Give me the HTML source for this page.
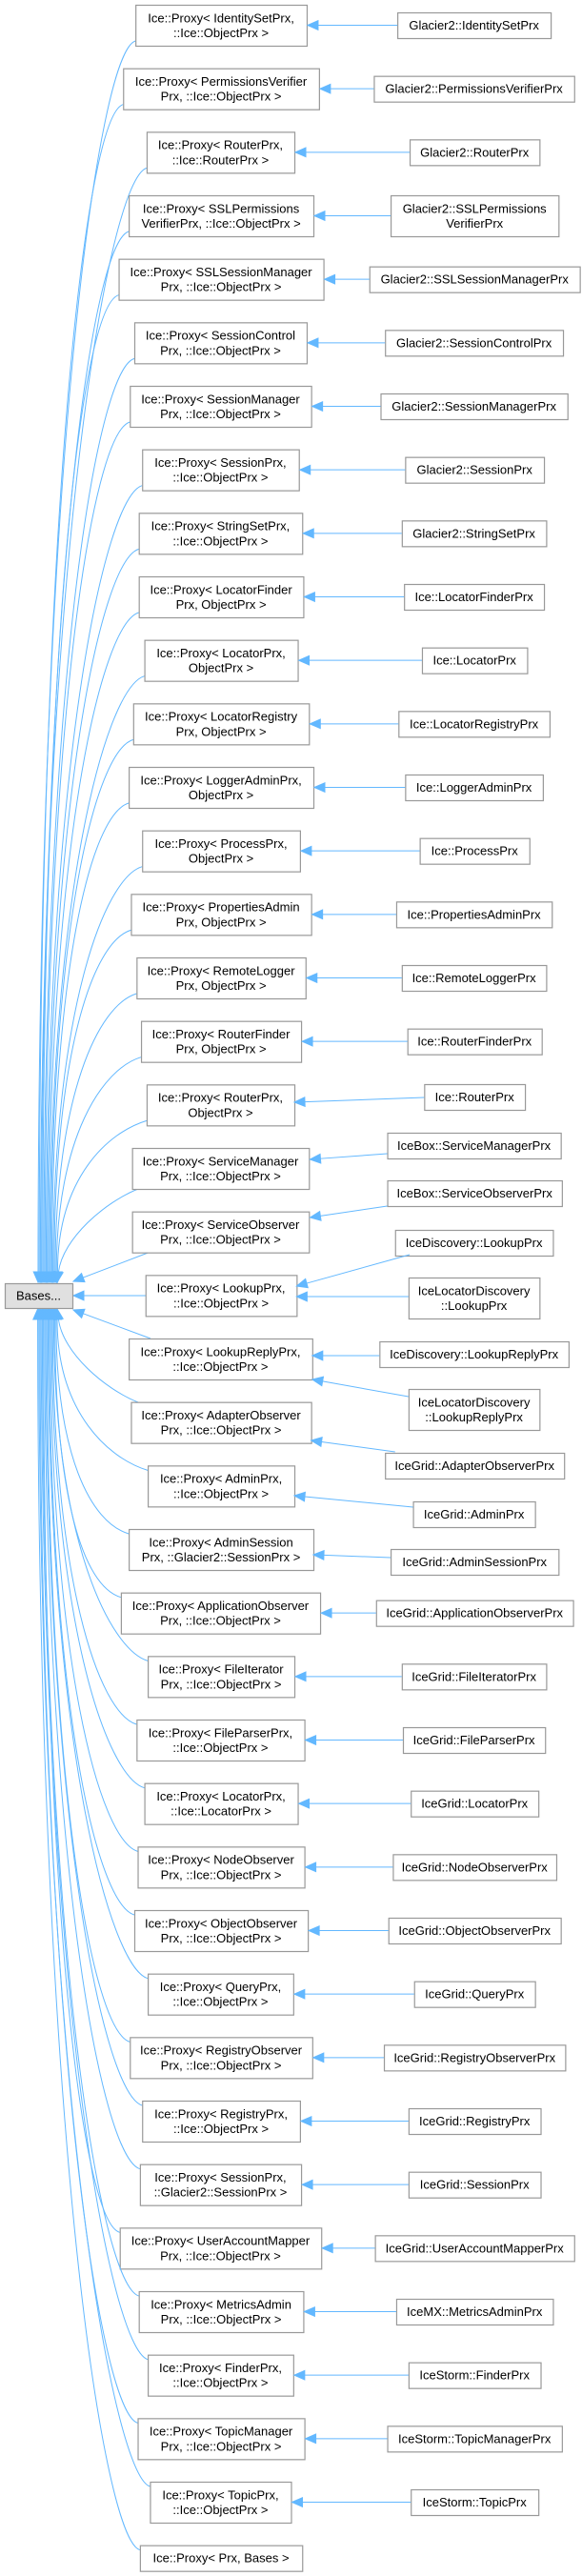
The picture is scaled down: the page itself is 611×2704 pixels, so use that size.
<!DOCTYPE html>
<html><head><meta charset="utf-8">
<style>
html,body{margin:0;padding:0;background:#fff;}
svg{display:block;}
text{font-family:"Liberation Sans",Arial,sans-serif;font-size:13px;fill:#000;}
</style></head>
<body>
<svg id="s" xmlns="http://www.w3.org/2000/svg" width="611" height="2704" viewBox="0 0 611 2704"></svg>
<script>
var S=1.175; // x scale
var P=66.667;
function T(k){return 5+(k-1)*P;}
var rows=[
[["Ice::Proxy< IdentitySetPrx,","::Ice::ObjectPrx >"],121,274,[["Glacier2::IdentitySetPrx"],355,492]],
[["Ice::Proxy< PermissionsVerifier","Prx, ::Ice::ObjectPrx >"],110,285,[["Glacier2::PermissionsVerifierPrx"],334,513]],
[["Ice::Proxy< RouterPrx,","::Ice::RouterPrx >"],131,263,[["Glacier2::RouterPrx"],366,482]],
[["Ice::Proxy< SSLPermissions","VerifierPrx, ::Ice::ObjectPrx >"],115,280,[["Glacier2::SSLPermissions","VerifierPrx"],349,499]],
[["Ice::Proxy< SSLSessionManager","Prx, ::Ice::ObjectPrx >"],106,289,[["Glacier2::SSLSessionManagerPrx"],330,518]],
[["Ice::Proxy< SessionControl","Prx, ::Ice::ObjectPrx >"],120,274,[["Glacier2::SessionControlPrx"],344,503]],
[["Ice::Proxy< SessionManager","Prx, ::Ice::ObjectPrx >"],116,278,[["Glacier2::SessionManagerPrx"],340,507]],
[["Ice::Proxy< SessionPrx,","::Ice::ObjectPrx >"],127,267,[["Glacier2::SessionPrx"],362,486]],
[["Ice::Proxy< StringSetPrx,","::Ice::ObjectPrx >"],124,270,[["Glacier2::StringSetPrx"],359,488]],
[["Ice::Proxy< LocatorFinder","Prx, ObjectPrx >"],124,271,[["Ice::LocatorFinderPrx"],361,486]],
[["Ice::Proxy< LocatorPrx,","ObjectPrx >"],129,266,[["Ice::LocatorPrx"],377,471]],
[["Ice::Proxy< LocatorRegistry","Prx, ObjectPrx >"],119,276,[["Ice::LocatorRegistryPrx"],356,491]],
[["Ice::Proxy< LoggerAdminPrx,","ObjectPrx >"],115,280,[["Ice::LoggerAdminPrx"],362,485]],
[["Ice::Proxy< ProcessPrx,","ObjectPrx >"],127,268,[["Ice::ProcessPrx"],375,473]],
[["Ice::Proxy< PropertiesAdmin","Prx, ObjectPrx >"],117,278,[["Ice::PropertiesAdminPrx"],354,493]],
[["Ice::Proxy< RemoteLogger","Prx, ObjectPrx >"],122,273,[["Ice::RemoteLoggerPrx"],359,488]],
[["Ice::Proxy< RouterFinder","Prx, ObjectPrx >"],126,269,[["Ice::RouterFinderPrx"],364,484]],
[["Ice::Proxy< RouterPrx,","ObjectPrx >"],131,263,[["Ice::RouterPrx"],379,469,1138,27,[379,1152],[263,1157]]],
[["Ice::Proxy< ServiceManager","Prx, ::Ice::ObjectPrx >"],118,276,[["IceBox::ServiceManagerPrx"],346,501,1189,27,[346,1211],[277,1217]]],
[["Ice::Proxy< ServiceObserver","Prx, ::Ice::ObjectPrx >"],118,276,[["IceBox::ServiceObserverPrx"],346,502,1239,27,[346,1266],[277,1278]]],
[["Ice::Proxy< LookupPrx,","::Ice::ObjectPrx >"],130,265,[["IceDiscovery::LookupPrx"],353,494,1291,27,[366,1317],[265,1350]],[["IceLocatorDiscovery","::LookupPrx"],365,482,1341,43,[365,1361],[265,1361]]],
[["Ice::Proxy< LookupReplyPrx,","::Ice::ObjectPrx >"],115,279,[["IceDiscovery::LookupReplyPrx"],339,508,1408,27,[339,1423],[279,1423]],[["IceLocatorDiscovery","::LookupReplyPrx"],365,482,1458,43,[365,1466],[279,1448]]],
[["Ice::Proxy< AdapterObserver","Prx, ::Ice::ObjectPrx >"],117,278,[["IceGrid::AdapterObserverPrx"],344,504,1525,27,[353,1524],[278,1512]]],
[["Ice::Proxy< AdminPrx,","::Ice::ObjectPrx >"],132,263,[["IceGrid::AdminPrx"],369,478,1576,27,[369,1582],[263,1570]]],
[["Ice::Proxy< AdminSession","Prx, ::Glacier2::SessionPrx >"],115,280,[["IceGrid::AdminSessionPrx"],349,499,1626,27,[349,1635],[280,1632]]],
[["Ice::Proxy< ApplicationObserver","Prx, ::Ice::ObjectPrx >"],108,286,[["IceGrid::ApplicationObserverPrx"],336,512]],
[["Ice::Proxy< FileIterator","Prx, ::Ice::ObjectPrx >"],132,263,[["IceGrid::FileIteratorPrx"],359,488]],
[["Ice::Proxy< FileParserPrx,","::Ice::ObjectPrx >"],122,272,[["IceGrid::FileParserPrx"],360,487]],
[["Ice::Proxy< LocatorPrx,","::Ice::LocatorPrx >"],129,266,[["IceGrid::LocatorPrx"],367,481]],
[["Ice::Proxy< NodeObserver","Prx, ::Ice::ObjectPrx >"],123,272,[["IceGrid::NodeObserverPrx"],351,497]],
[["Ice::Proxy< ObjectObserver","Prx, ::Ice::ObjectPrx >"],120,275,[["IceGrid::ObjectObserverPrx"],347,501]],
[["Ice::Proxy< QueryPrx,","::Ice::ObjectPrx >"],132,262,[["IceGrid::QueryPrx"],370,478]],
[["Ice::Proxy< RegistryObserver","Prx, ::Ice::ObjectPrx >"],116,279,[["IceGrid::RegistryObserverPrx"],343,505]],
[["Ice::Proxy< RegistryPrx,","::Ice::ObjectPrx >"],127,268,[["IceGrid::RegistryPrx"],365,483]],
[["Ice::Proxy< SessionPrx,","::Glacier2::SessionPrx >"],125,269,[["IceGrid::SessionPrx"],365,483]],
[["Ice::Proxy< UserAccountMapper","Prx, ::Ice::ObjectPrx >"],107,287,[["IceGrid::UserAccountMapperPrx"],335,513]],
[["Ice::Proxy< MetricsAdmin","Prx, ::Ice::ObjectPrx >"],124,271,[["IceMX::MetricsAdminPrx"],354,494]],
[["Ice::Proxy< FinderPrx,","::Ice::ObjectPrx >"],132,262,[["IceStorm::FinderPrx"],365,483]],
[["Ice::Proxy< TopicManager","Prx, ::Ice::ObjectPrx >"],123,272,[["IceStorm::TopicManagerPrx"],346,502]],
[["Ice::Proxy< TopicPrx,","::Ice::ObjectPrx >"],134,260,[["IceStorm::TopicPrx"],367,481]],
[["Ice::Proxy< Prx, Bases >"],125,270]
];
var out=[];var LC="#63b8ff";
function box(lines,x1,x2,y,h,fill){
 out.push('<rect x="'+(x1+0.5)+'" y="'+(y+0.5)+'" width="'+(x2-x1)+'" height="'+h+'" fill="'+(fill||'#fff')+'" stroke="#999" stroke-width="1.2"/>');
 var cx=(x1+x2)/2;
 if(lines.length==1){out.push('<text x="'+cx+'" y="'+(y+h/2+4.5)+'" text-anchor="middle">'+esc(lines[0])+'</text>');}
 else{out.push('<text x="'+cx+'" y="'+(y+18.3)+'" text-anchor="middle">'+esc(lines[0])+'</text>');
      out.push('<text x="'+cx+'" y="'+(y+34)+'" text-anchor="middle">'+esc(lines[1])+'</text>');}
}
function esc(s){return s.replace(/&/g,'&amp;').replace(/</g,'&lt;').replace(/>/g,'&gt;');}
function head(px,py,ex,ey){
 var dx=ex-px,dy=ey-py,l=Math.sqrt(dx*dx+dy*dy);dx/=l;dy/=l;
 var L=11,W=4.8;var bx=ex-dx*L,by=ey-dy*L;
 out.push('<polygon points="'+ex+','+ey+' '+(bx-dy*W)+','+(by+dx*W)+' '+(bx+dy*W)+','+(by-dx*W)+'" fill="'+LC+'" stroke="'+LC+'"/>');
 return [bx,by];
}
function curve(sx,sy,c1x,c1y,c2x,c2y,ex,ey){
 var b=head(c2x,c2y,ex,ey);
 // shorten end to base of arrow
 out.push('<path d="M'+sx+','+sy+' C'+c1x+','+c1y+' '+c2x+','+c2y+' '+b[0]+','+b[1]+'" fill="none" stroke="'+LC+'" stroke-width="1"/>');
}
function line(sx,sy,ex,ey){
 var b=head(sx,sy,ex,ey);
 out.push('<line x1="'+sx+'" y1="'+sy+'" x2="'+b[0]+'" y2="'+b[1]+'" stroke="'+LC+'" stroke-width="1"/>');
}
var BT=1347,BB=1373;
for(var i=0;i<rows.length;i++){
 var k=i+1,r=rows[i],t=T(k),h=r[0].length==1?27:43;
 var xl=r[1]*S,xr=r[2]*S;
 // edge to Bases
 if(k<=18){var tx=40+(k-1)*1.2;var sy=t+38;curve(xl,sy,xl-40,sy+12,tx,sy+(BT-sy)*0.35,tx,BT-1);}
 else if(k==19){curve(145,1248,110,1262,66,1300,60,BT-1);}
 else if(k==20){line(158,1314,77,1345);}
 else if(k==21){line(153,1360,77,1360);}
 else if(k==22){line(158,1405,77,1375);}
 else if(k==23){curve(145,1472,110,1458,66,1420,60,BB+1);}
 else {var tx2=60-(k-24)*1.2;var sy2=t+5;curve(xl,sy2,xl-40,sy2-12,tx2,sy2-(sy2-BB)*0.35,tx2,BB+1);}
 box(r[0],xl,xr,t,h);
 for(var j=3;j<r.length;j++){
  var rb=r[j];var rh=rb[0].length==1?27:43;var rt=rb.length>3?rb[3]:(rh==27?t+8:t);
  var rxl=rb[1]*S,rxr=rb[2]*S;
  box(rb[0],rxl,rxr,rt,rh);
  if(rb.length>5){line(rb[5][0]*S,rb[5][1],rb[6][0]*S,rb[6][1]);}
  else{var cy=t+21.5;line(rxl,cy,xr+1,cy);}
 }
}
box(["Bases..."],5,76,BT,26,"#e0e0e0");
document.getElementById('s').innerHTML=out.join('');
</script>
</body></html>
